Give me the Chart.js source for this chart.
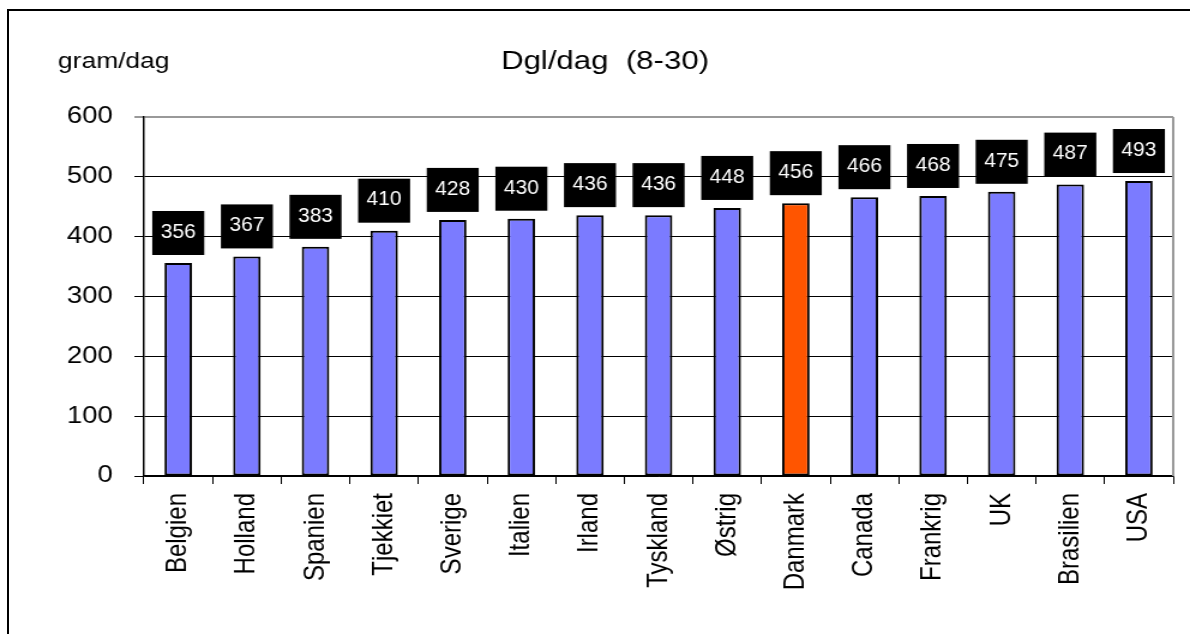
<!DOCTYPE html>
<html>
<head>
<meta charset="utf-8">
<script src="https://cdn.jsdelivr.net/npm/chart.js@4/dist/chart.umd.min.js"></script>
<style>
  html, body { margin: 0; padding: 0; background: #fff; }
  #wrap { position: relative; width: 1190px; height: 634px; overflow: hidden; }
  #frame { position: absolute; left: 7px; top: 9px; right: 0; bottom: 0;
           border-left: 2px solid #000; border-top: 2px solid #000; pointer-events: none; }
  canvas { position: absolute; left: 0; top: 0; }
</style>
</head>
<body>
<div id="wrap">
  <!-- the original is a horizontally stretched slide, so the canvas is drawn narrow and stretched by css -->
  <canvas id="dglChart" width="992" height="634" style="width:1190px;height:634px"></canvas>
  <div id="frame"></div>
</div>
<script>
const countries = ['Belgien', 'Holland', 'Spanien', 'Tjekkiet', 'Sverige', 'Italien', 'Irland', 'Tyskland', 'Østrig', 'Danmark', 'Canada', 'Frankrig', 'UK', 'Brasilien', 'USA'];
const gramPerDay = [356, 367, 383, 410, 428, 430, 436, 436, 448, 456, 466, 468, 475, 487, 493];
const highlight = 'Danmark';
const chartTitle = 'Dgl/dag  (8-30)';
const unitLabel = 'gram/dag';

const FONT = '"Liberation Sans", Arial, sans-serif';
const S = 1190 / 992; // horizontal stretch

// black value boxes + titles + right border of plot area
const decorPlugin = {
  id: 'decor',
  afterDatasetsDraw(chart) {
    const ctx = chart.ctx;
    const meta = chart.getDatasetMeta(0);
    meta.data.forEach((bar, i) => {
      const w = 52, h = 44;
      const bottom = bar.y - 8;
      ctx.save();
      ctx.translate(bar.x, 0);
      ctx.scale(1 / S, 1); // boxes are not stretched in the original
      ctx.fillStyle = '#000';
      ctx.fillRect(-w / 2, bottom - h, w, h);
      ctx.fillStyle = '#fff';
      ctx.font = '21px ' + FONT;
      ctx.textAlign = 'center';
      ctx.textBaseline = 'middle';
      ctx.fillText(gramPerDay[i], 0, bottom - h / 2 - 1);
      ctx.restore();
    });
    const a = chart.chartArea;
    ctx.save();
    ctx.strokeStyle = '#999';
    ctx.lineWidth = 2;
    ctx.beginPath();
    ctx.moveTo(a.right, a.top);
    ctx.lineTo(a.right, a.bottom);
    ctx.stroke();
    ctx.restore();
  },
  afterDraw(chart) {
    const ctx = chart.ctx;
    ctx.save();
    ctx.fillStyle = '#000';
    ctx.textBaseline = 'alphabetic';
    ctx.textAlign = 'center';
    ctx.font = '26px ' + FONT;
    ctx.fillText(chartTitle, 605 / S, 69);
    ctx.textAlign = 'left';
    ctx.font = '22px ' + FONT;
    ctx.fillText(unitLabel, 58 / S, 68);
    ctx.restore();
  }
};

new Chart(document.getElementById('dglChart'), {
  type: 'bar',
  data: {
    labels: countries,
    datasets: [{
      data: gramPerDay,
      backgroundColor: countries.map(c => c === highlight ? '#FF5500' : '#7B7BFF'),
      borderColor: '#000',
      borderWidth: 2,
      borderSkipped: false,
      barPercentage: 0.4,
      categoryPercentage: 1
    }]
  },
  options: {
    responsive: false,
    animation: false,
    layout: { padding: { left: 0, top: 117, right: Math.round(17 / S), bottom: 0 } },
    plugins: {
      legend: { display: false },
      title: { display: false },
      tooltip: { enabled: false }
    },
    scales: {
      x: {
        afterFit(scale) { scale.height = 158; },
        grid: { drawOnChartArea: false, tickLength: 8, color: '#000', offset: true },
        border: { color: '#000', width: 1.5 },
        ticks: {
          color: '#000',
          font: { family: FONT, size: 24 },
          minRotation: 90,
          maxRotation: 90,
          padding: 9
        }
      },
      y: {
        min: 0,
        max: 600,
        afterFit(scale) { scale.width = Math.round(144 / S); },
        grid: {
          color: ctx => ctx.tick && ctx.tick.value === 600 ? '#999' : '#000',
          lineWidth: ctx => ctx.tick && ctx.tick.value === 600 ? 2 : 1,
          tickLength: 8
        },
        border: { color: '#000', width: 1.5 },
        ticks: {
          stepSize: 100,
          color: '#000',
          font: { family: FONT, size: 23 },
          padding: 18
        }
      }
    }
  },
  plugins: [decorPlugin]
});
</script>
</body>
</html>
